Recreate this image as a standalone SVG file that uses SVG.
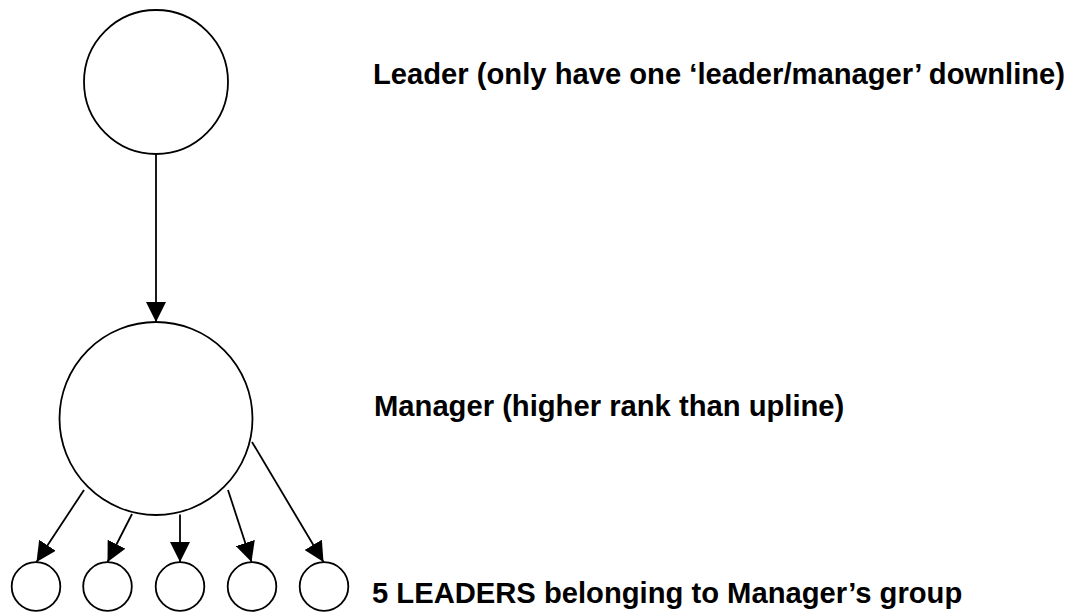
<svg xmlns="http://www.w3.org/2000/svg" width="1072" height="612" viewBox="0 0 1072 612">
<style>
.node{fill:#fff;stroke:#000;stroke-width:1.8}
.edge{stroke:#000;stroke-width:1.8;fill:none;marker-end:url(#arr)}
.lbl{font-family:"Liberation Sans",Arial,sans-serif;font-weight:bold;font-size:29.2px;fill:#000}
</style>
<defs>
<marker id="arr" markerUnits="userSpaceOnUse" markerWidth="20" markerHeight="20" refX="20" refY="10" orient="auto" viewBox="0 0 20 20">
<path d="M0,0 L20,10 L0,20 z" fill="#000"/>
</marker>
</defs>
<rect width="1072" height="612" fill="#fff"/>
<g id="connectors">
<line class="edge" x1="156" y1="154" x2="156" y2="322"/>
<line class="edge" x1="84" y1="490" x2="36.5" y2="562"/>
<line class="edge" x1="132" y1="514" x2="107.5" y2="562"/>
<line class="edge" x1="180" y1="514.5" x2="180" y2="562"/>
<line class="edge" x1="228" y1="490" x2="251.5" y2="562"/>
<line class="edge" x1="252" y1="442" x2="323.5" y2="562"/>
</g>
<g id="leader">
<circle class="node" cx="156" cy="82" r="72"/>
<text class="lbl" x="373" y="84">Leader (only have one ‘leader/manager’ downline)</text>
</g>
<g id="manager">
<circle class="node" cx="156" cy="418.5" r="96.5"/>
<text class="lbl" x="374" y="416">Manager (higher rank than upline)</text>
</g>
<g id="leaders">
<circle class="node" cx="36" cy="586.5" r="24.3"/>
<circle class="node" cx="107.5" cy="586.5" r="24.3"/>
<circle class="node" cx="180" cy="586.5" r="24.3"/>
<circle class="node" cx="252" cy="586.5" r="24.3"/>
<circle class="node" cx="324" cy="586.5" r="24.3"/>
<text class="lbl" x="372" y="603">5 LEADERS belonging to Manager’s group</text>
</g>
</svg>
